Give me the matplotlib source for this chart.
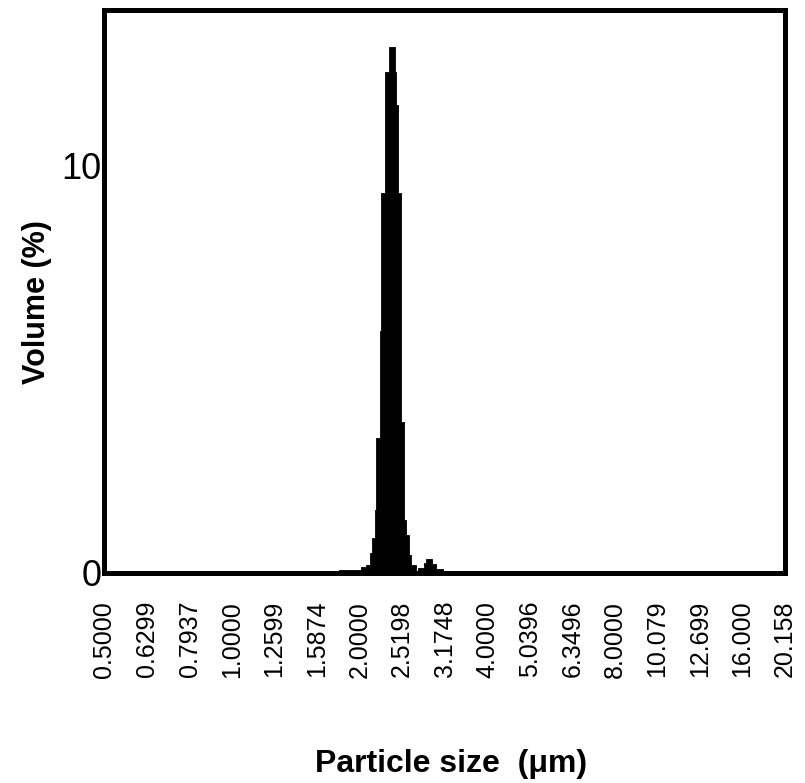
import matplotlib
matplotlib.use("Agg")
import matplotlib.pyplot as plt

# Particle size distribution (volume %)
size_edges = [1.44, 1.79, 2.02, 2.07, 2.11, 2.14, 2.17, 2.19, 2.23, 2.25, 2.30,
              2.34, 2.42, 2.43, 2.46, 2.50, 2.54, 2.57, 2.61, 2.65, 2.71, 2.75,
              2.83, 2.87, 2.97, 3.02, 3.15, 3.42]
volume = [0.03, 0.07, 0.15, 0.20, 0.49, 0.86, 1.54, 3.30, 5.94, 9.32, 12.27,
          12.89, 12.27, 11.47, 9.32, 3.69, 1.30, 0.93, 0.45, 0.20, 0.06,
          0.12, 0.25, 0.34, 0.22, 0.10, 0.04]

xtick_values = [0.5, 0.6299, 0.7937, 1.0, 1.2599, 1.5874, 2.0, 2.5198, 3.1748,
                4.0, 5.0396, 6.3496, 8.0, 10.079, 12.699, 16.0, 20.158]
xtick_labels = ["0.5000", "0.6299", "0.7937", "1.0000", "1.2599", "1.5874",
                "2.0000", "2.5198", "3.1748", "4.0000", "5.0396", "6.3496",
                "8.0000", "10.079", "12.699", "16.000", "20.158"]
ytick_values = [0, 10]
ytick_labels = ["0", "10"]

fig = plt.figure(figsize=(8.05, 7.83), dpi=100)
ax = fig.add_axes([0.1298, 0.2682, 0.8453, 0.7190])

ax.fill_between(size_edges, volume + [volume[-1]], step="post",
                facecolor="black", edgecolor="black", linewidth=0.6)

ax.set_xscale("log")
ax.set_xlim(0.5, 20.158)
ax.set_ylim(0, 13.8)

ax.set_xticks(xtick_values)
ax.set_xticklabels(xtick_labels, rotation=90, fontsize=18,
                   family=["Liberation Sans", "DejaVu Sans"])
ax.minorticks_off()
ax.set_yticks(ytick_values)
ax.set_yticklabels(ytick_labels, fontsize=26,
                   family=["Liberation Sans Narrow", "Liberation Sans", "DejaVu Sans"])
ax.tick_params(axis="x", length=0, pad=20)
ax.tick_params(axis="y", length=0, pad=2)

for s in ax.spines.values():
    s.set_linewidth(3.6)

ax.set_xlabel("Particle size  (\u03bcm)", fontsize=23, fontweight="bold",
              family=["Liberation Sans", "DejaVu Sans"], va="center")
ax.xaxis.set_label_coords((451 - 104.5) / 680.5, (573 - 764) / 563)
ax.set_ylabel("Volume (%)", fontsize=22, fontweight="bold",
              family=["Liberation Sans", "DejaVu Sans"], va="center")
ax.yaxis.set_label_coords((37 - 104.5) / 680.5, (573 - 302) / 563)

fig.savefig("out.png", dpi=100)
